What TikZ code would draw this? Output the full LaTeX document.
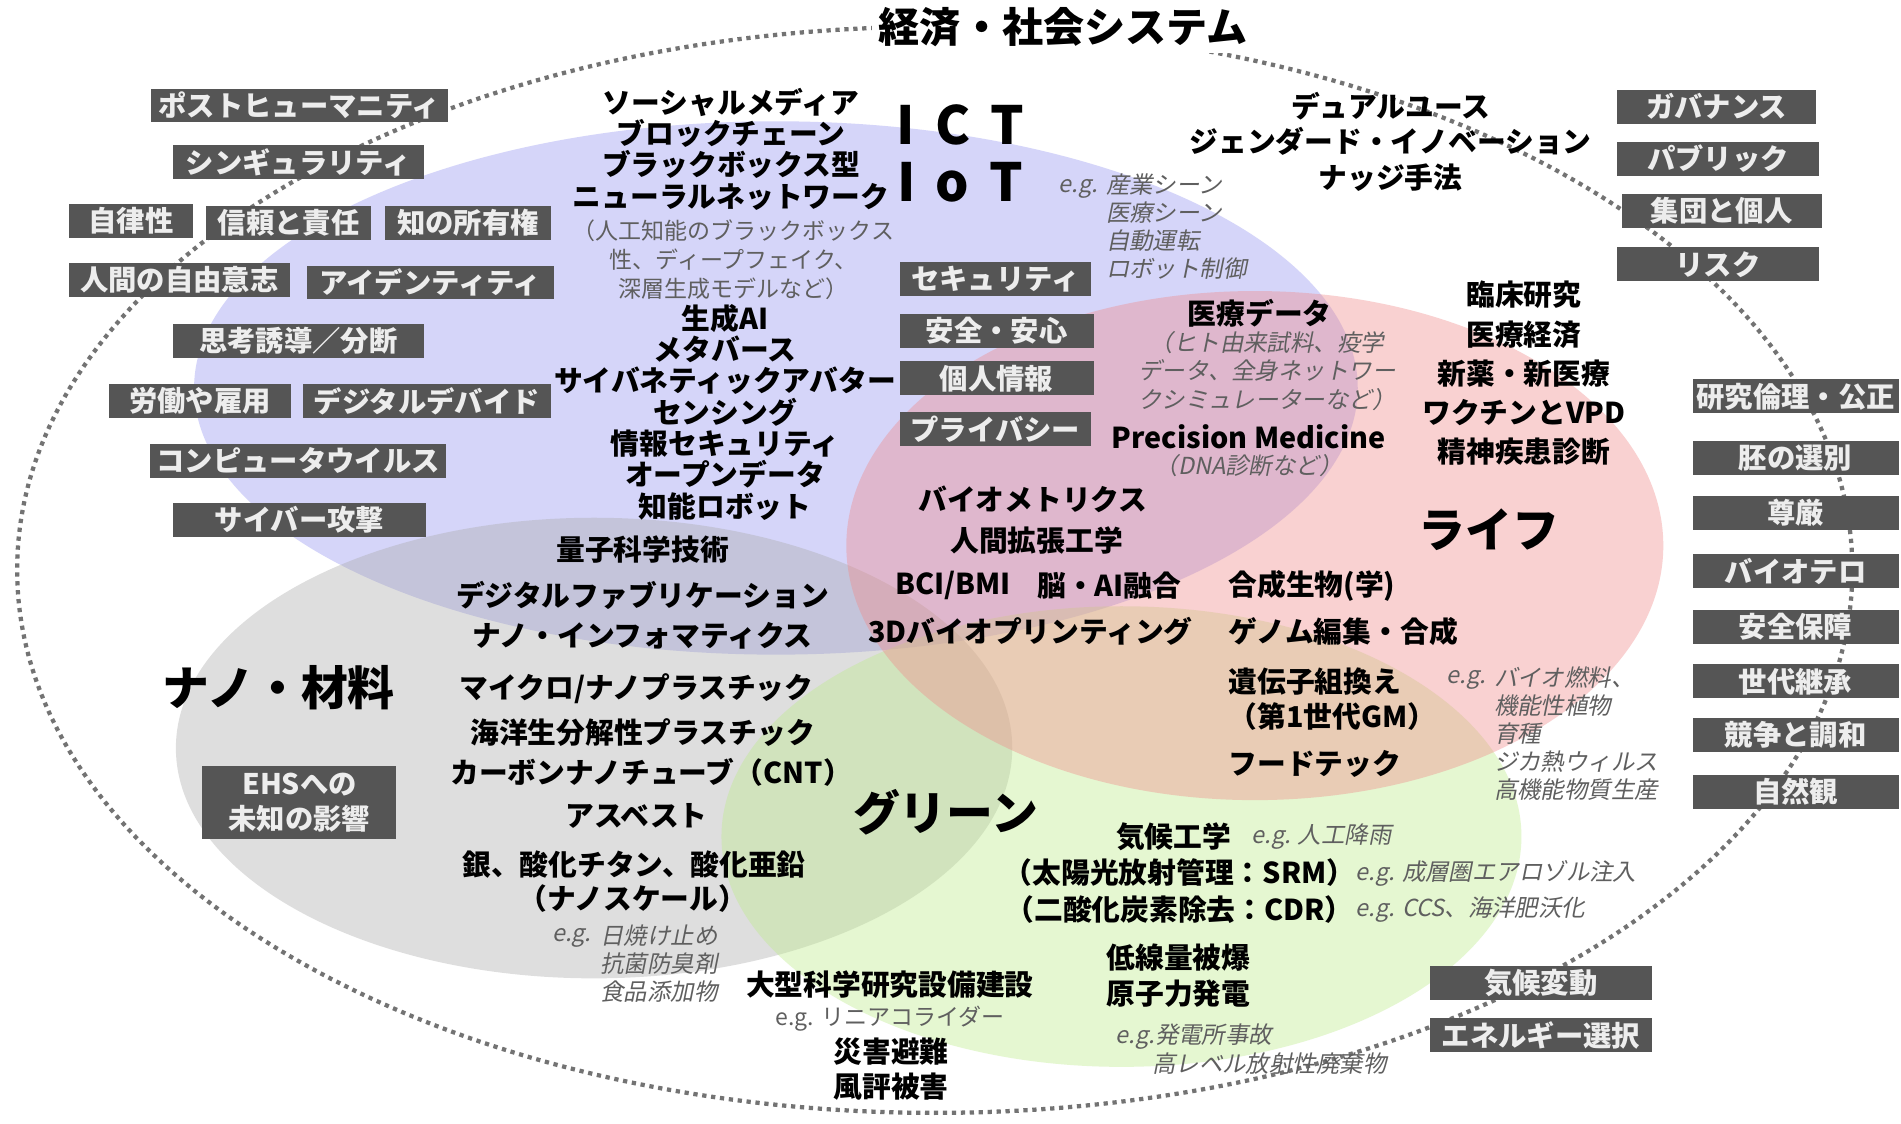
\documentclass[tikz,border=0pt]{standalone}
\usepackage{fontspec}
\setmainfont{Noto Sans CJK JP}
\newfontfamily\notefont{Noto Sans CJK JP}[FakeSlant=0.2]
\usepackage{xcolor}
\usetikzlibrary{positioning}

\definecolor{boxgray}{RGB}{85,85,85}
\definecolor{dotgray}{RGB}{115,115,115}
\definecolor{notegray}{RGB}{95,95,95}
\definecolor{ictblue}{RGB}{150,150,240}
\definecolor{lifepink}{RGB}{240,140,140}
\definecolor{nanogray}{RGB}{170,170,170}
\definecolor{greenfill}{RGB}{190,235,140}

\tikzset{
	grybox/.style={fill=boxgray, text=white!93!black, inner sep=0pt, minimum height=0.56cm, font=\bfseries\fontsize{13.3}{16}\selectfont},
	term/.style={inner sep=0pt, align=center, font=\bfseries\fontsize{13.5}{14.7}\selectfont},
	remark/.style={inner sep=0pt, align=left, text=notegray, font=\notefont\fontsize{11}{13.2}\selectfont},
	ictnote/.style={inner sep=0pt, align=center, text=notegray, font=\fontsize{10.8}{13.6}\selectfont},
	field/.style={inner sep=0pt, font=\bfseries\fontsize{22}{24}\selectfont}
}

\begin{document}
\begin{tikzpicture}[x=0.02cm, y=-0.02cm]
	\fill[white] (0,0) rectangle (1568,927);
	\useasboundingbox (0,0) rectangle (1568,927);

	\fill[ictblue, fill opacity=.4] (640,320) ellipse [x radius=9.6cm, y radius=4.4cm];
	\fill[nanogray, fill opacity=.38] (490,617) ellipse [x radius=6.9cm, y radius=3.8cm];
	\fill[greenfill, fill opacity=.4] (925,690) ellipse [x radius=6.6cm, y radius=3.8cm];
	\fill[lifepink, fill opacity=.4] (1035,450) ellipse [x radius=6.74cm, y radius=4.2cm];
	\draw[dotgray, line width=2pt, dash pattern=on 2pt off 2.2pt] (771,470) ellipse [x radius=15.14cm, y radius=8.96cm];

	\node[fill=white, inner sep=3pt, font=\bfseries\fontsize{19.3}{21}\selectfont] (title) at (877,22) {経済・社会システム};

	\node[grybox, minimum width=4.9cm] (posthuman) at (247,87) {ポストヒューマニティ};
	\node[grybox, minimum width=4.14cm] (singularity) at (246,134) {シンギュラリティ};
	\node[grybox, minimum width=2.06cm] (autonomy) at (108,182) {自律性};
	\node[grybox, minimum width=2.72cm] (trust) at (238,184) {信頼と責任};
	\node[grybox, minimum width=2.74cm] (ipright) at (386,184) {知の所有権};
	\node[grybox, minimum width=3.66cm] (freewill) at (148,231) {人間の自由意志};
	\node[grybox, minimum width=4.08cm] (identity) at (355,233) {アイデンティティ};
	\node[grybox, minimum width=4.14cm] (induce) at (246,281) {思考誘導／分断};
	\node[grybox, minimum width=3cm] (labor) at (165,331) {労働や雇用};
	\node[grybox, minimum width=4.1cm] (divide) at (352,331) {デジタルデバイド};
	\node[grybox, minimum width=4.88cm] (virus) at (246,380) {コンピュータウイルス};
	\node[grybox, minimum width=4.18cm] (cyberattack) at (247,429) {サイバー攻撃};

	\node[grybox, minimum width=3.16cm] (security) at (821,230) {セキュリティ};
	\node[grybox, minimum width=3.2cm] (safety) at (822,273) {安全・安心};
	\node[grybox, minimum width=3.2cm] (personal) at (822,312) {個人情報};
	\node[grybox, minimum width=3.16cm] (privacy) at (821,354) {プライバシー};

	\node[grybox, minimum width=3.28cm] (governance) at (1416,88) {ガバナンス};
	\node[grybox, minimum width=3.32cm] (public) at (1417,131) {パブリック};
	\node[grybox, minimum width=3.3cm] (group) at (1420,174) {集団と個人};
	\node[grybox, minimum width=3.32cm] (risk) at (1417,218) {リスク};

	\node[grybox, minimum width=3.4cm] (ethics) at (1481,327) {研究倫理・公正};
	\node[grybox, minimum width=3.4cm] (embryo) at (1481,378) {胚の選別};
	\node[grybox, minimum width=3.4cm] (dignity) at (1481,423) {尊厳};
	\node[grybox, minimum width=3.4cm] (bioterror) at (1481,471) {バイオテロ};
	\node[grybox, minimum width=3.4cm] (secure) at (1481,517) {安全保障};
	\node[grybox, minimum width=3.4cm] (heritage) at (1481,562) {世代継承};
	\node[grybox, minimum width=3.4cm] (compete) at (1481,606) {競争と調和};
	\node[grybox, minimum width=3.4cm] (nature) at (1481,653) {自然観};

	\node[grybox, minimum width=3.66cm] (climate) at (1271,811) {気候変動};
	\node[grybox, minimum width=3.66cm] (energy) at (1271,854) {エネルギー選択};
	\node[grybox, minimum width=3.2cm, minimum height=1.2cm, align=center] (ehs) at (247,662) {EHSへの\\未知の影響};

	\node[term] (socialmedia) at (603,123) {ソーシャルメディア\\ブロックチェーン\\ブラックボックス型\\ニューラルネットワーク};
	\node[ictnote] (blackbox) at (605,214) {（人工知能のブラックボックス\\性、ディープフェイク、\\深層生成モデルなど）};
	\node[term] (genai) at (598,340) {生成AI\\メタバース\\サイバネティックアバター\\センシング\\情報セキュリティ\\オープンデータ\\知能ロボット};

	\node[field, font=\bfseries\fontsize{24.7}{26}\selectfont] (ict) at (792,103) {I\hspace{.38em}C\hspace{.38em}T};
	\node[field, font=\bfseries\fontsize{24.7}{26}\selectfont] (iot) at (792,150) {I\hspace{.38em}o\hspace{.38em}T};
	\node[remark, anchor=west] (egict) at (873,156) {e.g.};
	\node[remark, anchor=west] (ictuses) at (912,187) {産業シーン\\医療シーン\\自動運転\\ロボット制御};

	\node[term, font=\bfseries\fontsize{13.5}{16.7}\selectfont] (dualuse) at (1147,117) {デュアルユース\\ジェンダード・イノベーション\\ナッジ手法};

	\node[term] (meddata) at (1039,258) {医療データ};
	\node[remark, align=center] (meddatanote) at (1045,306) {（ヒト由来試料、疫学\\データ、全身ネットワー\\クシミュレーターなど）};
	\node[term] (precision) at (1030,360) {Precision Medicine};
	\node[remark] (dnanote) at (1030,384) {（DNA診断など）};
	\node[term, font=\bfseries\fontsize{13.5}{18.4}\selectfont] (clinical) at (1257,308) {臨床研究\\医療経済\\新薬・新医療\\ワクチンとVPD\\精神疾患診断};

	\node[field] (life) at (1228,437) {ライフ};
	\node[term] (biometrics) at (852,412) {バイオメトリクス};
	\node[term] (augment) at (855,446) {人間拡張工学};
	\node[term] (bci) at (786,483) {BCI/BMI};
	\node[term] (brainai) at (915,483) {脳・AI融合};
	\node[term] (bioprint) at (850,521) {3Dバイオプリンティング};
	\node[term, anchor=west] (synbio) at (1013,483) {合成生物(学)};
	\node[term, anchor=west] (genome) at (1013,521) {ゲノム編集・合成};
	\node[term, anchor=west] (gmo) at (1013,562) {遺伝子組換え};
	\node[term, anchor=west] (gmfirst) at (1013,591) {（第1世代GM）};
	\node[term, anchor=west] (foodtech) at (1013,630) {フードテック};
	\node[remark, anchor=west] (egbio) at (1193,561) {e.g.};
	\node[remark, anchor=west] (biouses) at (1232,605) {バイオ燃料、\\機能性植物\\育種\\ジカ熱ウィルス\\高機能物質生産};

	\node[field] (green) at (780,670) {グリーン};
	\node[term] (geoeng) at (968,690) {気候工学};
	\node[remark, anchor=west] (egrain) at (1032,690) {e.g. 人工降雨};
	\node[term] (srm) at (973,720) {（太陽光放射管理：SRM）};
	\node[remark, anchor=west] (egsrm) at (1118,720) {e.g. 成層圏エアロゾル注入};
	\node[term] (cdr) at (973,750) {（二酸化炭素除去：CDR）};
	\node[remark, anchor=west] (egcdr) at (1118,750) {e.g. CCS、海洋肥沃化};
	\node[term, font=\bfseries\fontsize{13.5}{17}\selectfont] (lowdose) at (972,805) {低線量被爆\\原子力発電};
	\node[remark, anchor=west] (egnuke) at (920,855) {e.g.発電所事故};
	\node[remark, anchor=west] (nukewaste) at (950,877) {高レベル放射性廃棄物};

	\node[term] (bigsci) at (734,812) {大型科学研究設備建設};
	\node[ictnote] (eglinear) at (734,840) {e.g. リニアコライダー};
	\node[term, font=\bfseries\fontsize{13.5}{16.4}\selectfont] (evac) at (735,882) {災害避難\\風評被害};

	\node[field] (nano) at (230,567) {ナノ・材料};
	\node[term] (quantum) at (530,453) {量子科学技術};
	\node[term] (digifab) at (530,491) {デジタルファブリケーション};
	\node[term] (nanoinfo) at (530,524) {ナノ・インフォマティクス};
	\node[term] (microplastic) at (525,568) {マイクロ/ナノプラスチック};
	\node[term] (bioplastic) at (530,604) {海洋生分解性プラスチック};
	\node[term] (cnt) at (537,637) {カーボンナノチューブ（CNT）};
	\node[term] (asbestos) at (525,673) {アスベスト};
	\node[term] (silver) at (523,713) {銀、酸化チタン、酸化亜鉛};
	\node[term] (nanoscale) at (522,741) {（ナノスケール）};
	\node[remark, anchor=west] (egnano) at (455,774) {e.g.};
	\node[remark, anchor=west] (nanouses) at (495,795) {日焼け止め\\抗菌防臭剤\\食品添加物};
\end{tikzpicture}
\end{document}
